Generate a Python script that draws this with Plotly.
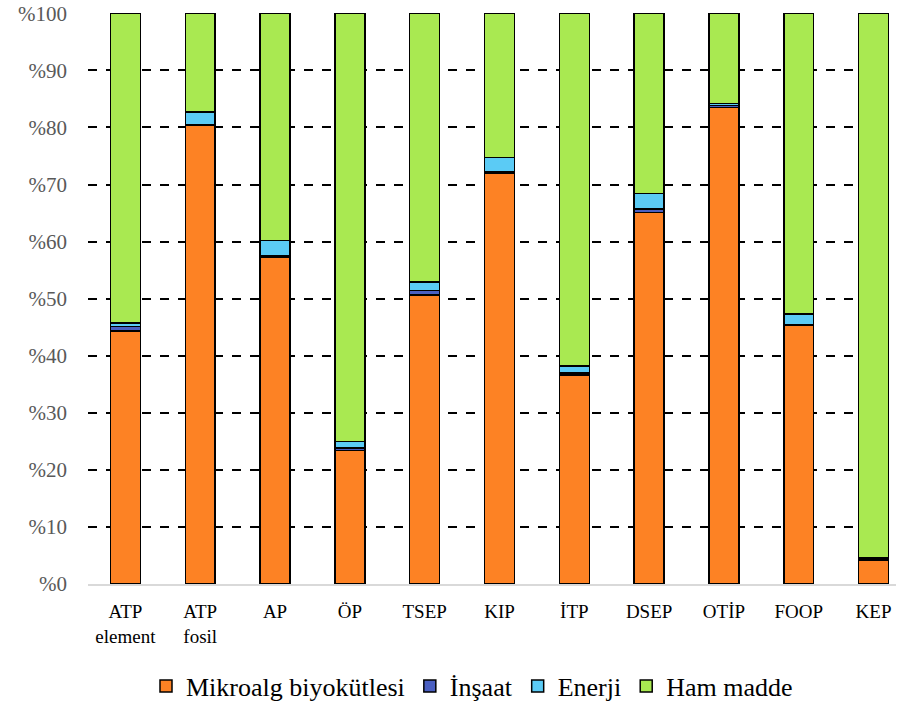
import plotly.graph_objects as go

kategoriler = ["ATP<br>element", "ATP<br>fosil", "AP", "ÖP", "TSEP", "KIP",
               "İTP", "DSEP", "OTİP", "FOOP", "KEP"]

mikroalg = [44.3, 80.3, 57.2, 23.4, 50.6, 72.0, 36.6, 65.1, 83.5, 45.3, 4.2]
insaat = [0.8, 0.2, 0.3, 0.4, 0.8, 0.3, 0.4, 0.6, 0.3, 0.2, 0.2]
enerji = [0.6, 2.2, 2.7, 1.2, 1.5, 2.4, 1.2, 2.7, 0.4, 1.8, 0.2]
ham_madde = [54.3, 17.3, 39.8, 75.0, 47.1, 25.3, 61.8, 31.6, 15.8, 52.7, 95.4]

y_ticks = list(range(0, 101, 10))
y_labels = [f"%{v}" for v in y_ticks]

seriler = [
    ("Mikroalg biyokütlesi", mikroalg, "#FD8224"),
    ("İnşaat", insaat, "#4A5FC1"),
    ("Enerji", enerji, "#5BCBF5"),
    ("Ham madde", ham_madde, "#A9E951"),
]

SERIF = "Liberation Serif"

fig = go.Figure()
for ad, degerler, renk in seriler:
    fig.add_trace(go.Bar(
        x=kategoriler, y=degerler, name=ad, width=0.4,
        marker=dict(color=renk, line=dict(color="black", width=1.5)),
    ))

fig.update_layout(
    template="none",
    barmode="stack",
    width=903, height=706,
    margin=dict(l=88, r=7, t=13, b=122),
    plot_bgcolor="white", paper_bgcolor="white",
    font=dict(family=SERIF, color="black"),
    showlegend=True,
    legend=dict(orientation="h", xref="container", yref="container",
                x=472 / 903, xanchor="center", y=20 / 706, yanchor="middle",
                traceorder="normal", itemwidth=30,
                font=dict(family=SERIF, size=26, color="black")),
)
fig.update_xaxes(
    range=[-0.5, 10.3], showline=True, linecolor="#D9D9D9", linewidth=2,
    showgrid=False, tickfont=dict(family=SERIF, size=19, color="black"), ticks="",
    ticklabelstandoff=9, automargin=False,
)
fig.update_yaxes(
    range=[0, 100.05], tickvals=y_ticks, ticktext=y_labels,
    showgrid=True, gridcolor="black", griddash="dash", gridwidth=1.7,
    zeroline=False, ticks="", tickfont=dict(family=SERIF, size=21, color="#595959"),
    ticklabelstandoff=20, automargin=False,
)

fig.write_html("out.html", config={"displayModeBar": False},
               post_script="document.body.style.margin='0';")
